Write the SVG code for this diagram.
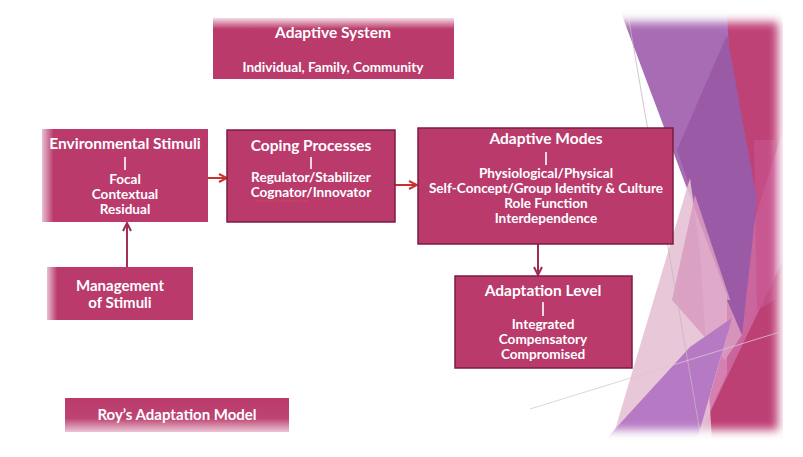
<svg xmlns="http://www.w3.org/2000/svg" width="803" height="457" viewBox="0 0 803 457">
<defs>
  <style>
    .box{fill:#b93a6b;}
    .bd{stroke:#7c1d42;stroke-width:1.5;}
    .t{font-family:Lato,"Open Sans","Liberation Sans",sans-serif;font-weight:bold;fill:#ffffff;text-anchor:middle;}
    .h{font-size:15.5px;}
    .s{font-size:13.6px;}
    .pipe{stroke:#ffffff;stroke-width:1.6;}
    .arr{fill:none;stroke-width:2;}
  </style>
  <linearGradient id="gTop" x1="0" y1="0" x2="0" y2="1">
    <stop offset="0" stop-color="#f4dbe5"/>
    <stop offset="0.18" stop-color="#b93a6b"/>
    <stop offset="1" stop-color="#b93a6b"/>
  </linearGradient>
  <linearGradient id="gBot" x1="0" y1="0" x2="0" y2="1">
    <stop offset="0" stop-color="#b93a6b"/>
    <stop offset="0.6" stop-color="#bd4473"/>
    <stop offset="1" stop-color="#ecc6d5"/>
  </linearGradient>
  <linearGradient id="gLeft" x1="0" y1="0" x2="1" y2="0">
    <stop offset="0" stop-color="#e9bfd0"/>
    <stop offset="0.07" stop-color="#b93a6b"/>
    <stop offset="1" stop-color="#b93a6b"/>
  </linearGradient>
  <marker id="mR" viewBox="0 0 10 10" refX="9" refY="5" markerWidth="5" markerHeight="5" orient="auto" markerUnits="strokeWidth">
    <path d="M1,1 L9,5 L1,9" fill="none" stroke="#c8332d" stroke-width="2"/>
  </marker>
  <marker id="mM" viewBox="0 0 10 10" refX="9" refY="5" markerWidth="5" markerHeight="5" orient="auto" markerUnits="strokeWidth">
    <path d="M1,1 L9,5 L1,9" fill="none" stroke="#9e2c57" stroke-width="2"/>
  </marker>
  <filter id="soft" x="-0.2" y="-0.2" width="1.4" height="1.4">
    <feGaussianBlur stdDeviation="5"/>
  </filter>
  <mask id="deco">
    <rect x="598" y="22" width="180" height="408" fill="#ffffff" filter="url(#soft)"/>
  </mask>
</defs>

<rect width="803" height="457" fill="#ffffff"/>

<!-- decorative facets -->
<g id="decoration" mask="url(#deco)">
  <rect x="727" y="10" width="56" height="430" fill="#bf4277"/>
  <polygon points="697,440 783,440 783,250" fill="#bd4075"/>
  <polygon points="745,250 783,130 783,260 697,440 732,318" fill="#cd6ba3" opacity="0.85"/>
  <polygon points="754,140 775,140 775,300 757,310" fill="#c8528d" opacity="0.7"/>
  <polygon points="620,10 727,10 742,335" fill="#a86cb4"/>
  <polygon points="727,35 757,200 742,335 677,150" fill="#9a5aa6"/>
  <polygon points="612,440 690,178 700,250 712,440" fill="#e6c1d5" opacity="0.9"/>
  <polygon points="672,300 695,195 742,335 725,360" fill="#d99bc0" opacity="0.85"/>
  <polygon points="605,440 697,440 732,318 690,347" fill="#b679c3"/>
  <polygon points="727,300 742,335 737,300" fill="#9a5aa6"/>
  <line x1="628" y1="15" x2="700" y2="432" stroke="#c9b6c0" stroke-width="0.8"/>
</g>
<line x1="530" y1="409" x2="780" y2="332" stroke="#d8c8d0" stroke-width="0.8"/>

<!-- connectors -->
<g id="connectors">
  <line class="arr" x1="208" y1="178" x2="227" y2="178" stroke="#c8332d" marker-end="url(#mR)"/>
  <line class="arr" x1="395" y1="185" x2="417" y2="185" stroke="#c8332d" marker-end="url(#mR)"/>
  <line class="arr" x1="127" y1="267" x2="127" y2="223" stroke="#a3305c" marker-end="url(#mM)"/>
  <line class="arr" x1="538" y1="244" x2="538" y2="275" stroke="#9e2c57" marker-end="url(#mM)"/>
</g>

<!-- nodes -->
<g id="adaptive-system">
  <rect x="213" y="18" width="241" height="61" fill="url(#gTop)"/>
  <text class="t h" x="333" y="38">Adaptive System</text>
  <text class="t s" x="333" y="72">Individual, Family, Community</text>
</g>

<g id="environmental-stimuli">
  <rect x="42" y="129" width="166" height="93" fill="url(#gLeft)"/>
  <text class="t h" x="125" y="149">Environmental Stimuli</text>
  <line class="pipe" x1="125" y1="157" x2="125" y2="170"/>
  <text class="t s" x="125" y="184">Focal</text>
  <text class="t s" x="125" y="199">Contextual</text>
  <text class="t s" x="125" y="214">Residual</text>
</g>

<g id="coping-processes">
  <rect class="box bd" x="227" y="130" width="168" height="92"/>
  <text class="t h" x="311" y="151">Coping Processes</text>
  <line class="pipe" x1="311" y1="157" x2="311" y2="169"/>
  <text class="t s" x="311" y="182">Regulator/Stabilizer</text>
  <text class="t s" x="311" y="197">Cognator/Innovator</text>
  <path d="M256,201 L310,201" stroke="#d9544a" stroke-width="1" stroke-dasharray="1.5,1.5"/>
</g>

<g id="adaptive-modes">
  <rect class="box bd" x="418" y="128" width="255" height="116"/>
  <text class="t h" x="546" y="144">Adaptive Modes</text>
  <line class="pipe" x1="546" y1="152" x2="546" y2="165"/>
  <text class="t s" x="546" y="178">Physiological/Physical</text>
  <text class="t s" x="546" y="193">Self-Concept/Group Identity &amp; Culture</text>
  <text class="t s" x="546" y="208">Role Function</text>
  <text class="t s" x="546" y="223">Interdependence</text>
</g>

<g id="management-of-stimuli">
  <rect x="47" y="267" width="146" height="53" fill="url(#gLeft)"/>
  <text class="t" style="font-size:15px" x="120" y="291">Management</text>
  <text class="t" style="font-size:15px" x="120" y="308">of Stimuli</text>
</g>

<g id="adaptation-level">
  <rect class="box bd" x="455" y="276" width="177" height="92"/>
  <text class="t h" x="543" y="296">Adaptation Level</text>
  <line class="pipe" x1="543" y1="302" x2="543" y2="316"/>
  <text class="t s" x="543" y="329">Integrated</text>
  <text class="t s" x="543" y="344">Compensatory</text>
  <text class="t s" x="543" y="359">Compromised</text>
</g>

<g id="roys-adaptation-model">
  <rect x="65" y="398" width="224" height="34" fill="url(#gBot)"/>
  <text class="t" style="font-size:15px" x="177" y="420">Roy’s Adaptation Model</text>
</g>
</svg>
